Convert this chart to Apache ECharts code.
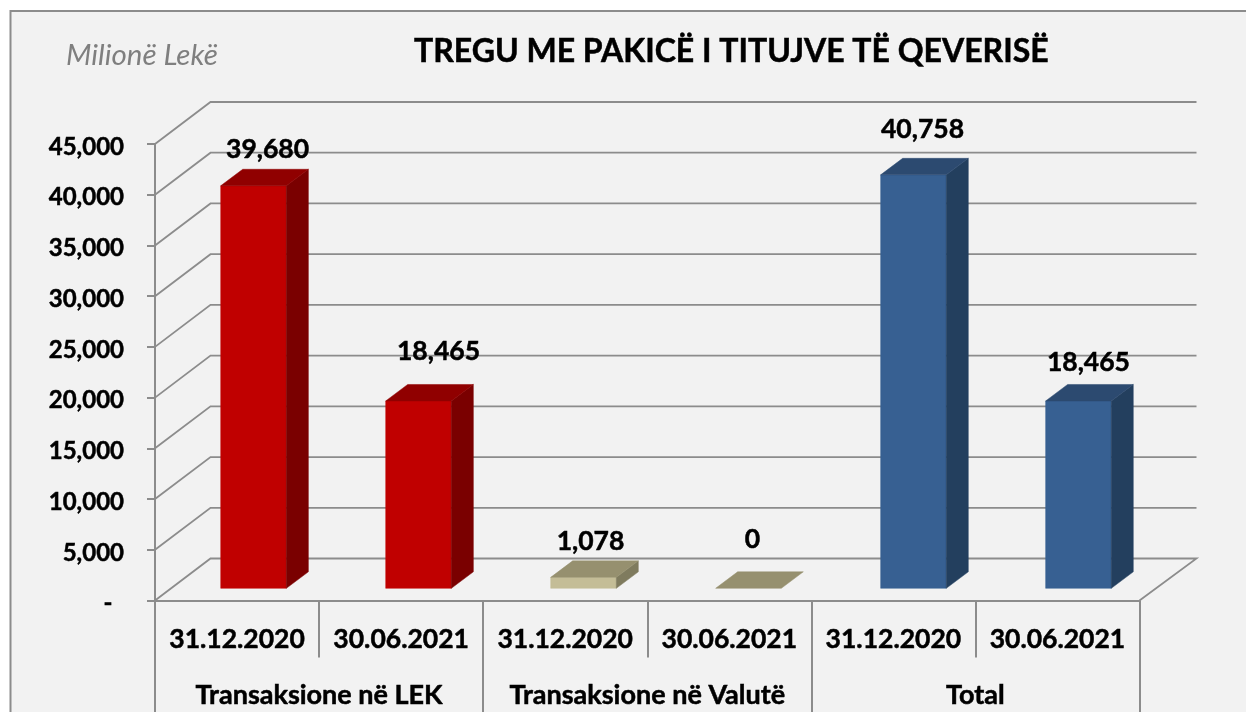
<!DOCTYPE html>
<html>
<head>
<meta charset="utf-8">
<title>Tregu me pakicë i titujve të qeverisë</title>
<script src="https://cdn.jsdelivr.net/npm/echarts@6/dist/echarts.min.js"></script>
<style>
    html, body { margin: 0; padding: 0; background: #fff; }
    #chart { width: 1246px; height: 712px; }
</style>
</head>
<body>
<div id="chart"></div>
<script>
const periods = ['31.12.2020', '30.06.2021', '31.12.2020', '30.06.2021', '31.12.2020', '30.06.2021'];
const groups = ['Transaksione në LEK', 'Transaksione në Valutë', 'Total'];
const values = [39680, 18465, 1078, 0, 40758, 18465];
const yTicks = [0, 5000, 10000, 15000, 20000, 25000, 30000, 35000, 40000, 45000];

// front / top / side colours, one row per bar
const red = ['#c00000', '#900000', '#7a0000'];
const tan = ['#c4bd97', '#96906f', '#7f7b5e'];
const blue = ['#376092', '#2c4a70', '#233f5e'];
const barFaces = [red, red, tan, tan, blue, blue];

// label nudges, the original has them placed by hand
const labelShift = [[14, -36], [20, -50], [7, -36], [4, -49], [9, -45], [10, -39]];

// fake 3D: how far the back wall and the bars are pushed
const WALL_X = 55.5, WALL_Y = 42;
const WALL_GROW = 1.5; // back wall is a touch wider than the front axis
const BAR_X = 16.5, BAR_Y = 12.2;
const BAR_DX = 22, BAR_DY = 16.5;
const BAR_DRIFT = 0.9; // bars sit a bit deeper than the front axis so their step is slightly wider
const LINE = '#8c8c8c';
const FONT = 'Lato';

// Lato bold is lighter than the original face, a thin outline brings it closer
const heavy = { textBorderColor: '#000', textBorderWidth: 0.5 };

const chart = echarts.init(document.getElementById('chart'));

function renderWall(params, api) {
    const sys = params.coordSys;
    const y = api.coord([0, api.value(0)])[1];
    const x0 = sys.x, x1 = sys.x + sys.width;
    const points = [[x0, y], [x0 + WALL_X, y - WALL_Y], [x1 + WALL_X + WALL_GROW, y - WALL_Y]];
    if (api.value(0) === 0) {
        points.push([x1, y]);
    }
    return {
        type: 'polyline',
        shape: { points: points },
        style: { fill: null, stroke: LINE, lineWidth: 1.8 }
    };
}

function renderBar(params, api) {
    const i = params.dataIndex;
    const faces = barFaces[i];
    const base = api.coord([i, 0]);
    const top = api.coord([i, api.value(1)]);
    const w = api.size([1, 0])[0] * 0.4;
    const l = base[0] - w / 2 + BAR_X + i * BAR_DRIFT, r = l + w;
    const b = base[1] - BAR_Y, t = top[1] - BAR_Y;
    const poly = (points, fill) => ({
        type: 'polygon',
        shape: { points: points },
        style: { fill: fill, stroke: fill, lineWidth: 0.5 }
    });
    const children = [];
    if (api.value(1) > 0) {
        children.push(poly([[l, t], [r, t], [r, b], [l, b]], faces[0]));
        children.push(poly([[r, t], [r + BAR_DX, t - BAR_DY], [r + BAR_DX, b - BAR_DY], [r, b]], faces[2]));
    }
    children.push(poly([[l, t], [r, t], [r + BAR_DX, t - BAR_DY], [l + BAR_DX, t - BAR_DY]], faces[1]));
    children.push({
        type: 'text',
        style: {
            x: (l + r) / 2 + labelShift[i][0],
            y: t + labelShift[i][1],
            text: echarts.format.addCommas(api.value(1)),
            fill: '#000',
            stroke: '#000',
            lineWidth: 0.5,
            font: 'bold 26.5px ' + FONT,
            align: 'center',
            verticalAlign: 'middle'
        }
    });
    return { type: 'group', children: children };
}

const option = {
    animation: false,
    backgroundColor: '#fff',
    textStyle: { fontFamily: FONT },
    graphic: [{
        type: 'rect',
        z: -10,
        shape: { x: 10.5, y: 11, width: 1260, height: 730 },
        style: { fill: '#f2f2f2', stroke: LINE, lineWidth: 2 }
    }],
    title: [{
        text: 'TREGU ME PAKICË I TITUJVE TË QEVERISË',
        left: 409,
        top: 31,
        textStyle: { fontSize: 32, fontWeight: 'bold', color: '#000', fontFamily: FONT, ...heavy }
    }, {
        text: 'Milionë Lekë',
        left: 61,
        top: 35,
        textStyle: { fontSize: 29.5, fontWeight: 'normal', fontStyle: 'italic', color: '#7f7f7f', fontFamily: FONT }
    }],
    grid: { left: 155, right: 106.5, top: 144, bottom: 111.5 },
    xAxis: [{
        type: 'category',
        data: periods,
        position: 'bottom',
        axisLine: { lineStyle: { color: LINE, width: 2 } },
        axisTick: { show: true, length: 57, lineStyle: { color: LINE, width: 2 } },
        axisLabel: { interval: 0, margin: 25, color: '#000', fontSize: 26.5, fontWeight: 'bold', fontFamily: FONT, ...heavy }
    }, {
        type: 'category',
        data: groups,
        position: 'bottom',
        axisLine: { show: false },
        axisTick: { show: true, length: 112, lineStyle: { color: LINE, width: 2 } },
        axisLabel: { interval: 0, margin: 81, color: '#000', fontSize: 27, fontWeight: 'bold', fontFamily: FONT, ...heavy }
    }],
    yAxis: {
        type: 'value',
        min: 0,
        max: 45000,
        interval: 5000,
        axisLine: { show: true, lineStyle: { color: LINE, width: 2 } },
        axisTick: { show: true, length: 8, lineStyle: { color: LINE, width: 2 } },
        splitLine: { show: false },
        axisLabel: {
            margin: 31,
            color: '#000',
            fontSize: 24,
            fontWeight: 'bold',
            fontFamily: FONT,
            verticalAlign: 'top',
            lineHeight: 6, // sits the numbers a little below their tick
            ...heavy,
            formatter: value => value === 0 ? '-  ' : echarts.format.addCommas(value)
        }
    },
    series: [{
        type: 'custom',
        name: 'wall',
        coordinateSystem: 'cartesian2d',
        renderItem: renderWall,
        data: yTicks.map(v => [v]),
        encode: { y: 0 },
        z: 1,
        silent: true
    }, {
        type: 'custom',
        name: 'bars',
        coordinateSystem: 'cartesian2d',
        renderItem: renderBar,
        data: values.map((v, i) => [i, v]),
        encode: { x: 0, y: 1 },
        z: 2,
        silent: true
    }]
};
chart.setOption(option);
window.addEventListener('resize', () => chart.resize());
</script>
</body>
</html>
